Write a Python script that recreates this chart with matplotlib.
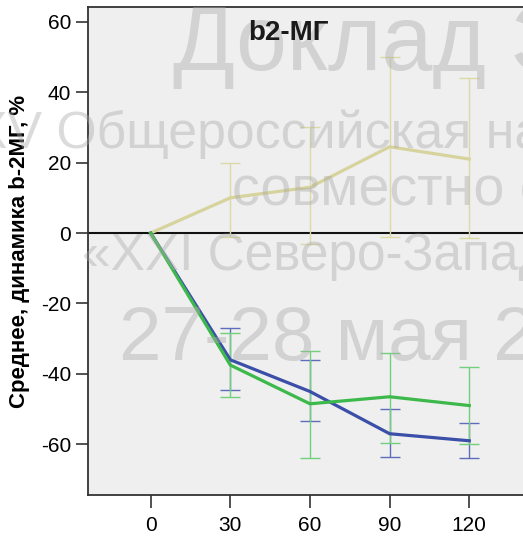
import matplotlib
matplotlib.use("Agg")
import matplotlib.pyplot as plt

plt.rcParams['font.family'] = ['Liberation Sans', 'DejaVu Sans']
plt.rcParams['axes.unicode_minus'] = False

# time points (minutes)
times = [0, 30, 60, 90, 120]

# beige group
beige_mean = [0, 10, 13, 24.5, 21]
beige_lo = [0, -1, -3, -1, -1.5]
beige_hi = [0, 20, 30, 50, 44]

# blue group
blue_mean = [0, -36, -45, -57, -59]
blue_lo = [0, -44.5, -53.5, -63.5, -64]
blue_hi = [0, -27, -36, -50, -54]

# green group
green_mean = [0, -37.5, -48.5, -46.5, -49]
green_lo = [0, -46.5, -64, -59.5, -60]
green_hi = [0, -28.5, -33.5, -34, -38]

y_ticks = [-60, -40, -20, 0, 20, 40, 60]

W, H = 523, 536
fig = plt.figure(figsize=(W / 100, H / 100), dpi=100)
ax = fig.add_axes([88 / W, 41 / H, (W - 88) / W + 0.01, (495 - 7) / H])
ax.set_facecolor('#efefef')

ax.axhline(0, color='#111111', lw=1.5, zorder=1)

series = [
    (beige_mean, beige_lo, beige_hi, '#d6d39c', '#dcd9a6'),
    (blue_mean, blue_lo, blue_hi, '#3b4ea8', '#5d6cbb'),
    (green_mean, green_lo, green_hi, '#3cb94a', '#72cf7c'),
]
for mean, lo, hi, col, ecol in series:
    ax.plot(times, mean, color=col, lw=2.3, zorder=3)
    err_lo = [m - l for m, l in zip(mean[1:], lo[1:])]
    err_hi = [h - m for m, h in zip(mean[1:], hi[1:])]
    ax.errorbar(times[1:], mean[1:], yerr=[err_lo, err_hi], fmt='none',
                ecolor=ecol, elinewidth=1.0, capsize=7, capthick=1.0, zorder=2)

ax.set_xlim(-23.6, 142.2)
ax.set_ylim(-74.4, 64.2)
ax.set_xticks(times)
ax.set_yticks(y_ticks)
ax.tick_params(labelsize=15, length=9, width=1.2, color='#333333', pad=3)
ax.tick_params(axis='x', pad=6)
for side in ['left', 'bottom', 'top']:
    ax.spines[side].set_color('#333333')
    ax.spines[side].set_linewidth(1.3)
ax.spines['right'].set_visible(False)

fig.text(20 / W, 1 - 251 / H, 'Среднее, динамика b-2МГ, %', fontsize=16,
         fontweight='bold', rotation=90, ha='center', va='center')

# watermark lines
wm = [
    ('Доклад З', 173, 70, 66),
    ('XV Общероссийская на', -27, 148, 37.3),
    ('совместно с', 232, 205, 40),
    ('«XXI Северо-Запад', 82, 270, 37),
    ('27-28 мая 2', 119, 360, 55),
]
for txt, x, y, fs in wm:
    fig.text(x / W, 1 - y / H, txt, fontsize=fs, color='#aaaaaa', alpha=0.42,
             ha='left', va='baseline', zorder=10)

fig.text(288 / W, 1 - 40 / H, 'b2-МГ', fontsize=20, fontweight='bold',
         ha='center', va='baseline', color='#1a1a1a', zorder=11)

fig.savefig('out.png', dpi=100)
